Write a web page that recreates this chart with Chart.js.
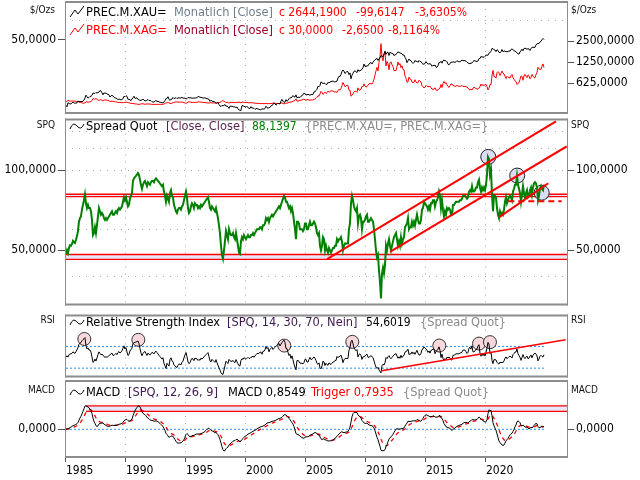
<!DOCTYPE html>
<html>
<head>
<meta charset="utf-8">
<script src="https://cdn.jsdelivr.net/npm/chart.js@4.4.1/dist/chart.umd.min.js"></script>
<style>
  body { margin: 0; background: #fff; }
  #wrap { position: relative; width: 640px; height: 480px; overflow: hidden;
          font-family: 'DejaVu Sans Condensed', 'DejaVu Sans', sans-serif; }
  canvas { position: absolute; left: 0; }
  .row { position: absolute; left: 0; width: 640px; height: 14px; font-size: 12.7px; line-height: 14px; white-space: nowrap; z-index: 5; }
  .row span, .row svg { position: absolute; top: 0; }
  .row span.n { font-size: 12px; }
  .pl { position: absolute; font-size: 10px; line-height: 12px; color: #111; z-index: 5; }
  .pl.l { left: 0; width: 55px; text-align: right; }
  .pl.r { left: 571px; }
</style>
</head>
<body>
<div id="wrap">
  <canvas id="c1" width="640" height="116" style="top:0px"></canvas>
  <canvas id="c2" width="640" height="202" style="top:111px"></canvas>
  <canvas id="c3" width="640" height="76" style="top:308px"></canvas>
  <canvas id="c4" width="640" height="101" style="top:379px"></canvas>

  <div class="pl l" style="top:4px">$/Ozs</div><div class="pl r" style="top:4px">$/Ozs</div>
  <div class="pl l" style="top:119px">SPQ</div><div class="pl r" style="top:119px">SPQ</div>
  <div class="pl l" style="top:314px">RSI</div><div class="pl r" style="top:314px">RSI</div>
  <div class="pl l" style="top:384px">MACD</div><div class="pl r" style="top:384px">MACD</div>

  <div class="row" style="top:5px">
    <svg style="left:69px" width="16" height="14"><polyline points="1,12 6,5 9,9 15,1" fill="none" stroke="#000" stroke-width="1"/></svg>
    <span style="left:86px;color:#000">PREC.M.XAU=</span>
    <span style="left:174px;color:#708090">Monatlich [Close]</span>
    <span class="n" style="left:279px;color:#f00">c 2644,1900</span>
    <span class="n" style="left:356px;color:#f00">-99,6147</span>
    <span class="n" style="left:415px;color:#f00">-3,6305%</span>
  </div>
  <div class="row" style="top:23px">
    <svg style="left:69px" width="16" height="14"><polyline points="1,12 6,5 9,9 15,1" fill="none" stroke="#f00" stroke-width="1"/></svg>
    <span style="left:86px;color:#f00">PREC.M.XAG=</span>
    <span style="left:174px;color:#a0002a">Monatlich [Close]</span>
    <span class="n" style="left:279px;color:#f00">c 30,0000</span>
    <span class="n" style="left:342px;color:#f00">-2,6500</span>
    <span class="n" style="left:388px;color:#f00">-8,1164%</span>
  </div>
  <div class="row" style="top:119px">
    <svg style="left:69px" width="16" height="14"><path d="M1,10 Q4,2 8,7 T15,5" fill="none" stroke="#000" stroke-width="1"/></svg>
    <span style="left:86px;color:#000">Spread Quot</span>
    <span style="left:166px;color:#5c1f4e">[Close, Close]</span>
    <span class="n" style="left:252px;color:#008000">88,1397</span>
    <span style="left:305px;color:#8a8a8a">{PREC.M.XAU=, PREC.M.XAG=}</span>
  </div>
  <div class="row" style="top:315px">
    <svg style="left:69px" width="16" height="14"><path d="M1,10 Q4,2 8,7 T15,5" fill="none" stroke="#000" stroke-width="1"/></svg>
    <span style="left:86px;color:#000">Relative Strength Index</span>
    <span style="left:227px;color:#3c1a4e">[SPQ, 14, 30, 70, Nein]</span>
    <span class="n" style="left:366px;color:#000">54,6019</span>
    <span style="left:420px;color:#8a8a8a">{Spread Quot}</span>
  </div>
  <div class="row" style="top:385px">
    <svg style="left:69px" width="16" height="14"><path d="M1,10 Q4,2 8,7 T15,5" fill="none" stroke="#000" stroke-width="1"/></svg>
    <span style="left:86px;color:#000">MACD</span>
    <span style="left:128px;color:#3c1a4e">[SPQ, 12, 26, 9]</span>
    <span style="left:228px;color:#000">MACD 0,8549</span>
    <span style="left:311px;color:#f00">Trigger 0,7935</span>
    <span style="left:403px;color:#8a8a8a">{Spread Quot}</span>
  </div>
</div>

<script>
// monthly closes, Jan 1985 .. Nov 2024
const START = 1985;
const X_MIN = 1984.92, X_MAX = 2026.75;
const yearTicks = [1985, 1990, 1995, 2000, 2005, 2010, 2015, 2020];

// gold, $/oz
const gold = [
  302, 287, 329, 322, 316, 317, 327, 336, 325, 326, 325, 327,          // 1985
  350, 338, 345, 342, 343, 346, 357, 384, 423, 401, 384, 391,
  405, 406, 419, 452, 451, 447, 462, 453, 459, 468, 492, 486,
  458, 427, 456, 450, 454, 437, 437, 427, 397, 412, 422, 410,
  394, 387, 383, 377, 362, 373, 368, 360, 366, 376, 408, 401,
  415, 407, 368, 368, 363, 352, 372, 387, 408, 380, 384, 386,          // 1990
  367, 363, 355, 357, 361, 368, 362, 347, 354, 357, 366, 353,
  354, 353, 341, 336, 337, 343, 357, 340, 349, 339, 334, 333,
  330, 327, 337, 354, 377, 378, 401, 371, 355, 370, 370, 391,
  378, 381, 390, 377, 387, 386, 384, 385, 394, 383, 383, 383,
  375, 376, 391, 389, 385, 387, 383, 382, 384, 383, 387, 387,          // 1995
  405, 400, 396, 392, 391, 382, 385, 387, 379, 379, 371, 369,
  345, 358, 348, 340, 345, 334, 326, 325, 332, 311, 296, 290,
  302, 297, 301, 310, 293, 296, 288, 273, 294, 292, 294, 288,
  287, 287, 280, 286, 268, 261, 255, 255, 299, 299, 291, 290,
  283, 293, 279, 275, 272, 289, 276, 277, 273, 264, 270, 273,          // 2000
  266, 267, 258, 264, 267, 270, 265, 273, 293, 279, 275, 279,
  282, 297, 301, 309, 327, 318, 304, 312, 324, 318, 317, 347,
  367, 347, 334, 336, 364, 346, 354, 375, 388, 384, 398, 417,
  400, 397, 427, 387, 395, 395, 391, 408, 416, 428, 453, 438,
  422, 434, 428, 435, 417, 436, 429, 433, 473, 470, 495, 513,          // 2005
  569, 556, 582, 654, 643, 613, 633, 624, 599, 604, 646, 632,
  650, 665, 662, 678, 659, 650, 666, 672, 743, 789, 783, 834,
  923, 971, 934, 865, 888, 930, 913, 833, 880, 724, 815, 870,
  928, 943, 917, 891, 980, 927, 955, 955, 1001, 1040, 1180, 1096,
  1081, 1116, 1113, 1180, 1212, 1245, 1181, 1248, 1307, 1357, 1386, 1421, // 2010
  1332, 1410, 1439, 1556, 1536, 1500, 1628, 1813, 1620, 1722, 1746, 1564,
  1740, 1710, 1669, 1664, 1560, 1598, 1614, 1692, 1772, 1720, 1713, 1675,
  1662, 1579, 1597, 1472, 1393, 1234, 1313, 1395, 1327, 1323, 1251, 1202,
  1244, 1326, 1284, 1296, 1250, 1327, 1282, 1287, 1210, 1171, 1183, 1199,
  1283, 1213, 1183, 1184, 1190, 1172, 1095, 1135, 1115, 1142, 1065, 1061, // 2015
  1117, 1238, 1233, 1293, 1215, 1320, 1350, 1309, 1316, 1272, 1173, 1146,
  1211, 1249, 1249, 1269, 1268, 1242, 1269, 1322, 1280, 1271, 1275, 1303,
  1345, 1318, 1325, 1315, 1299, 1253, 1224, 1201, 1192, 1215, 1222, 1282,
  1321, 1313, 1292, 1284, 1305, 1409, 1413, 1520, 1472, 1511, 1464, 1517,
  1589, 1585, 1577, 1687, 1730, 1781, 1975, 1968, 1886, 1879, 1777, 1895, // 2020
  1847, 1734, 1708, 1769, 1906, 1770, 1814, 1813, 1757, 1783, 1775, 1829,
  1797, 1909, 1937, 1897, 1838, 1807, 1766, 1711, 1660, 1633, 1768, 1824,
  1928, 1827, 1969, 1990, 1962, 1919, 1965, 1940, 1849, 1983, 2036, 2063,
  2040, 2044, 2230, 2286, 2327, 2326, 2448, 2503, 2635, 2744, 2644.19     // 2024
];

// spread quot gold / silver (SPQ)
const spq = [
  48.5, 50, 48.8, 51, 52.2, 52, 52.8, 54.2, 53.6, 53.2, 54.6, 56.5,    // 1985
  59, 64, 66, 67, 71, 74, 77, 81, 75, 72, 74, 72,
  72, 70, 65, 57, 58, 61, 58, 62, 67, 72, 70, 68,
  69, 68, 66, 65, 66, 65, 66, 67, 68, 69, 70, 68,
  68, 69, 70, 69, 71, 72, 71, 72, 73, 76, 79, 77,
  79, 76, 73, 74, 78, 80, 82, 91, 93, 94, 95, 96,                      // 1990
  97.5, 96, 92, 88, 85, 88, 90, 91, 89, 87, 90, 89,
  88, 90, 91, 91, 90, 92, 93, 92, 91, 90, 89, 88,
  87, 88, 83, 80, 76, 80, 78, 76, 82, 84, 80, 79,
  74, 72, 70, 69, 71, 72, 72, 71, 73, 74, 77, 80,
  83, 79, 72, 69, 70, 73, 75, 74, 72, 75, 74, 74,                      // 1995
  72, 73, 72, 74, 73, 74, 75, 76, 77, 78, 79, 76,
  72, 71, 73, 72, 71, 70, 72, 69, 66, 62, 58, 52,
  48, 46.5, 50, 54, 59, 57, 55, 60, 58, 57, 57, 58,
  56, 55, 58, 55, 52, 49, 48.5, 54, 56, 55, 57, 56,
  55, 56, 57, 56, 56, 57, 57, 58, 57, 58, 59, 60,                      // 2000
  60, 60, 61, 61, 60, 62, 62, 63, 66, 65, 66, 64,
  66, 67, 68, 67, 68, 69, 70, 71, 72, 73, 72, 74,
  76, 78, 80, 79, 76, 76, 74, 72, 73, 70, 72, 69,
  64, 60, 55, 64, 64, 63, 60, 60, 60, 59, 60, 63,
  63, 60, 60, 62, 64, 62, 62, 63, 64, 63, 61, 58,                      // 2005
  57, 58, 52, 50, 52, 56, 55, 50, 52, 50, 49, 51,
  50, 49, 50, 51, 51, 52, 52, 55, 54, 55, 55, 56,
  54, 50, 52, 53, 53, 53, 53, 60, 63, 75, 80, 77,
  73, 71, 70, 72, 63, 67, 68, 66, 60, 64, 64, 65,
  67, 68, 64, 64, 65, 66, 65, 64, 60, 55, 50, 47,                      // 2010
  48, 42, 38, 33, 41, 43, 41, 44, 52, 50, 53, 55,
  52, 50, 52, 54, 56, 57, 58, 55, 52, 54, 52, 56,
  53, 55, 56, 61, 62, 63, 66, 60, 61, 61, 64, 62,
  64, 62, 65, 68, 65, 63, 63, 65, 71, 72, 76, 75,
  74, 73, 71, 73, 71, 75, 75, 77, 77, 73, 76, 77,                      // 2015
  79, 83, 80, 72, 77, 71, 67, 70, 68, 72, 71, 72,
  71, 68, 68, 74, 74, 75, 76, 76, 76, 76, 77, 77,
  78, 80, 80, 80, 79, 78, 79, 83, 84, 83, 87, 83,
  83, 84, 86, 86, 90, 92, 86, 83, 86, 84, 86, 84,
  88, 96, 112, 110, 96, 100, 81, 70, 80, 80, 79, 72,                   // 2020
  68, 66, 70, 68, 69, 68, 71, 76, 79, 75, 77, 79,
  80, 79, 77, 83, 85, 88, 88, 95, 88, 85, 82, 76,
  81, 87, 82, 79, 82, 84, 79, 80, 84, 86, 81, 86,
  89, 90, 89, 86, 77, 80, 85, 87, 85, 84, 88.14                        // 2024
];

// drawn annotations on the SPQ panel (year, value)
const spqBandHigh = [81.1, 79.4];
const spqBandLow = [48.2, 46.2];
const spqTrendA = [[2006.75, 46.3], [2025.83, 152.2]];
const spqTrendB = [[2012.0, 49.3], [2026.72, 122.6]];
const spqTrendC = [[2021.08, 66.4], [2025.19, 89.2]];
const spqSupport = [[2021.86, 76.4], [2026.3, 76.4]];
const spqMarks = [[2020.19, 112], [2022.6, 95.3], [2024.64, 82.2]];

// RSI annotations
const rsiLevels = [70, 30];
const rsiTrend = [[2011.31, 25.3], [2026.64, 82.2]];
const rsiMarks = [[1986.53, 83.7], [1991.03, 82.2], [2003.19, 71.6], [2008.86, 78.4],
                  [2016.11, 71.6], [2019.42, 75.2], [2020.33, 77.9]];

// MACD annotations
const macdBand = [7.0, 5.35];

// ---- derived series (same as the indicators in the legend) ----
const silver = gold.map((g, i) => g / spq[i]);

function ema(values, n) {
  const k = 2 / (n + 1);
  const out = [];
  values.forEach((v, i) => out.push(i === 0 ? v : out[i - 1] + k * (v - out[i - 1])));
  return out;
}
// Wilder RSI, history before the first month taken as neutral
function rsiOf(values, n) {
  const out = [50];
  let g = 1, l = 1;
  for (let i = 1; i < values.length; i++) {
    const d = values[i] - values[i - 1];
    g = (g * (n - 1) + Math.max(d, 0)) / n;
    l = (l * (n - 1) + Math.max(-d, 0)) / n;
    out.push(100 - 100 / (1 + g / l));
  }
  return out;
}
const rsi = rsiOf(spq, 14);
const e12 = ema(spq, 12), e26 = ema(spq, 26);
const macd = e12.map((v, i) => v - e26[i]);
const trigger = ema(macd, 9);

// ---- helpers ----
const monthly = arr => arr.map((v, i) => ({ x: START + i / 12, y: v }));
const pairs = arr => arr.map(p => ({ x: p[0], y: p[1] }));
const level = (v, from, to) => [{ x: from, y: v }, { x: to, y: v }];
const fmt = v => v.toFixed(4).replace('.', ',');
const X_END = START + (spq.length - 1) / 12;

Chart.defaults.font.family = "'DejaVu Sans Condensed', 'DejaVu Sans', sans-serif";
Chart.defaults.font.size = 12;
Chart.defaults.color = '#000';
Chart.defaults.animation = false;
Chart.defaults.plugins.legend.display = false;
Chart.defaults.plugins.tooltip.enabled = false;
Chart.defaults.elements.point.radius = 0;
Chart.defaults.elements.line.tension = 0;

const frame = {
  id: 'frame',
  afterDraw(chart) {
    const { ctx, chartArea: a } = chart;
    ctx.save();
    ctx.fillStyle = '#8c8c8c';
    ctx.fillRect(a.left, a.top - 1, 1, a.bottom - a.top + 2);
    ctx.fillRect(a.right, a.top - 1, 1, a.bottom - a.top + 2);
    ctx.fillRect(a.left, a.top - 1, a.right - a.left + 1, 2);
    ctx.fillRect(a.left, a.bottom - 1, a.right - a.left + 1, 2);
    ctx.restore();
  }
};

function xScale(showLabels) {
  return {
    type: 'linear', min: X_MIN, max: X_MAX,
    afterBuildTicks: s => { s.ticks = yearTicks.map(v => ({ value: v })); },
    afterFit: s => { s.height = showLabels ? 23 : 0; s.paddingLeft = 0; s.paddingRight = 0; },
    border: { display: false, dash: [1, 6] },
    grid: { color: '#a8a8a8', drawTicks: showLabels, tickLength: 5, tickColor: '#505050' },
    ticks: { display: showLabels, align: 'start', padding: 2, autoSkip: false, maxRotation: 0,
             callback: v => String(v) }
  };
}

function yScale(pos, cfg) {
  return {
    type: cfg.type || 'linear', position: pos, min: cfg.min, max: cfg.max,
    afterBuildTicks: s => { s.ticks = cfg.ticks.map(v => ({ value: v })); },
    afterFit: s => { s.width = pos === 'left' ? 65 : 73; s.paddingTop = 0; s.paddingBottom = 0; },
    border: { display: false, dash: [1, 6] },
    grid: {
      color: c => (c.tick && cfg.grid.includes(c.tick.value)) ? '#a8a8a8' : 'rgba(0,0,0,0)',
      tickColor: c => (c.tick && cfg.labels.includes(c.tick.value)) ? '#505050' : 'rgba(0,0,0,0)',
      tickLength: 7
    },
    ticks: { padding: 2, autoSkip: false, callback: v => cfg.labels.includes(v) ? fmt(v) : '' }
  };
}

function options(scales, padBottom) {
  return {
    responsive: false, devicePixelRatio: 1,
    layout: { padding: { top: 2, bottom: padBottom, left: 0, right: 0 } },
    scales: scales
  };
}

const lineDs = (data, color, width, extra) =>
  Object.assign({ data: data, borderColor: color, borderWidth: width, pointRadius: 0, fill: false }, extra || {});

// ---- panel 1: gold (log, right) and silver (linear, left) ----
new Chart(document.getElementById('c1'), {
  type: 'line',
  data: { datasets: [
    lineDs(monthly(silver), '#ff0000', 1, { yAxisID: 'ys', order: 2 }),
    lineDs(monthly(gold), '#000000', 1, { yAxisID: 'yg', order: 1 })
  ] },
  options: options({
    x: xScale(false),
    ys: yScale('left', { min: -2.4, max: 76.9, ticks: [50], labels: [50], grid: [] }),
    yg: yScale('right', { type: 'logarithmic', min: 234.5, max: 9145, ticks: [625, 1250, 2500, 5000],
                          labels: [625, 1250, 2500], grid: [5000] })
  }, 3),
  plugins: [frame]
});

// ---- panel 2: spread quot ----
const spqGrid = [40, 60, 80, 100, 120, 140];
new Chart(document.getElementById('c2'), {
  type: 'line',
  data: { datasets: [
    lineDs(level(spqBandHigh[0], X_MIN, X_MAX), '#ff0000', 1.3, { order: 20 }),
    lineDs(level(spqBandHigh[1], X_MIN, X_MAX), '#ff0000', 1.3, { order: 20, fill: '-1', backgroundColor: '#e6e6f8' }),
    lineDs(level(spqBandLow[0], X_MIN, X_MAX), '#ff0000', 1.3, { order: 20 }),
    lineDs(level(spqBandLow[1], X_MIN, X_MAX), '#ff0000', 1.3, { order: 20, fill: '-1', backgroundColor: '#e6e6f8' }),
    lineDs(pairs(spqMarks), '#222', 1, { showLine: false, pointRadius: 7.5, pointBackgroundColor: '#dcdcf2',
                                           pointBorderColor: '#222', pointBorderWidth: 1, order: 10 }),
    lineDs(monthly(spq), '#008000', 2, { order: 5 }),
    lineDs(pairs(spqTrendA), '#ff0000', 2, { order: 1 }),
    lineDs(pairs(spqTrendB), '#ff0000', 2, { order: 1 }),
    lineDs(pairs(spqTrendC), '#ff0000', 2, { order: 1 }),
    lineDs(pairs(spqSupport), '#ff0000', 2, { order: 1, borderDash: [6, 4] })
  ] },
  options: options({
    x: xScale(false),
    y: yScale('left', { type: 'logarithmic', min: 31.3, max: 154.7, ticks: [40, 50, 60, 80, 100, 120, 140],
                        labels: [50, 100], grid: spqGrid }),
    yr: yScale('right', { type: 'logarithmic', min: 31.3, max: 154.7, ticks: [50, 100], labels: [50, 100], grid: [] })
  }, 3),
  plugins: [frame]
});

// ---- panel 3: RSI ----
new Chart(document.getElementById('c3'), {
  type: 'line',
  data: { datasets: [
    lineDs(level(rsiLevels[0], START, X_END), '#1e90ff', 1, { borderDash: [2, 2], order: 20 }),
    lineDs(level(rsiLevels[1], START, X_END), '#1e90ff', 1, { borderDash: [2, 2], order: 20 }),
    lineDs(pairs(rsiMarks), '#333', 1, { showLine: false, pointRadius: 6.5, pointBackgroundColor: '#f8d8dc',
                                         pointBorderColor: '#333', pointBorderWidth: 1, order: 10 }),
    lineDs(monthly(rsi), '#000', 1, { order: 5 }),
    lineDs(pairs(rsiTrend), '#ff0000', 1.5, { order: 1 })
  ] },
  options: options({
    x: xScale(false),
    y: yScale('left', { min: 14.66, max: 126.9, ticks: [50], labels: [], grid: [] }),
    yr: yScale('right', { min: 14.66, max: 126.9, ticks: [50], labels: [], grid: [] })
  }, 3),
  plugins: [frame]
});

// ---- panel 4: MACD ----
new Chart(document.getElementById('c4'), {
  type: 'line',
  data: { datasets: [
    lineDs(level(macdBand[0], 1986.67, X_MAX), '#ff0000', 1.3, { order: 20 }),
    lineDs(level(macdBand[1], 1986.67, X_MAX), '#ff0000', 1.3, { order: 20, fill: '-1', backgroundColor: '#e6e6f8' }),
    lineDs(level(0, START, X_END), '#1e90ff', 1, { borderDash: [2, 2], order: 20 }),
    lineDs(monthly(trigger), '#ff0000', 1.3, { borderDash: [4, 4], order: 6 }),
    lineDs(monthly(macd), '#000', 1, { order: 5 })
  ] },
  options: options({
    x: xScale(true),
    y: yScale('left', { min: -8.29, max: 14.45, ticks: [0], labels: [0], grid: [] }),
    yr: yScale('right', { min: -8.29, max: 14.45, ticks: [0], labels: [0], grid: [] })
  }, 0),
  plugins: [frame]
});
</script>
</body>
</html>
